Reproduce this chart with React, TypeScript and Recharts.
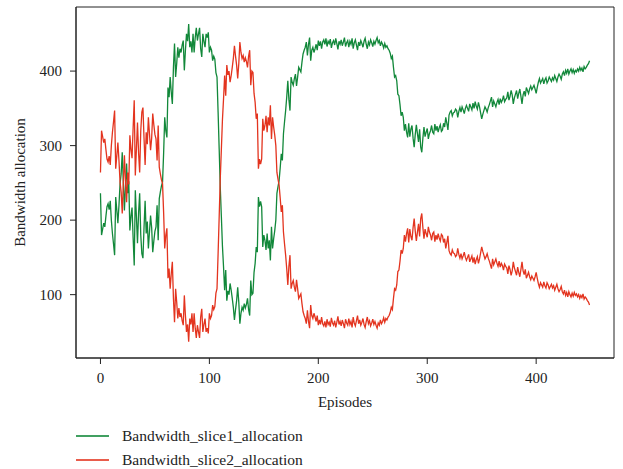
import { LineChart, Line, XAxis, YAxis, Label, ReferenceArea } from "recharts"

// Bandwidth given to each slice per episode
const slice1: number[] = [
  236, 180, 188, 196, 191, 205, 218, 222, 214, 226,
  200, 182, 168, 153, 231, 214, 196, 220, 249, 262,
  291, 250, 213, 248, 276, 236, 252, 186, 205, 217,
  176, 139, 240, 205, 169, 210, 236, 180, 155, 149,
  190, 226, 182, 198, 162, 184, 206, 190, 157, 172,
  185, 191, 220, 173, 229, 238, 246, 251, 290, 338,
  320, 311, 378, 365, 392, 372, 356, 405, 437, 392,
  410, 432, 418, 430, 425, 435, 441, 401, 428, 450,
  440, 463, 432, 440, 425, 450, 425, 445, 458, 441,
  450, 458, 430, 419, 450, 440, 432, 450, 445, 452,
  425, 432, 428, 414, 420, 416, 398, 392, 345, 295,
  244, 205, 165, 137, 106, 133, 92, 105, 100, 115,
  106, 95, 83, 66, 80, 92, 110, 90, 61, 75,
  83, 79, 88, 82, 87, 95, 80, 72, 119, 100,
  102, 130, 142, 164, 157, 231, 218, 225, 218, 164,
  180, 173, 160, 182, 162, 173, 146, 191, 162, 175,
  186, 200, 236, 245, 253, 270, 289, 280, 316, 332,
  347, 365, 387, 362, 347, 392, 385, 381, 390, 396,
  380, 392, 405, 402, 399, 412, 423, 428, 432, 439,
  421, 436, 445, 414, 428, 432, 425, 430, 436, 428,
  441, 434, 440, 430, 439, 442, 436, 444, 433, 440,
  437, 443, 431, 438, 441, 435, 444, 437, 429, 440,
  436, 442, 434, 439, 445, 433, 438, 441, 432, 440,
  436, 444, 430, 438, 442, 435, 428, 439, 434, 441,
  437, 432, 440, 444, 436, 430, 439, 435, 442, 438,
  433, 440, 436, 441, 445, 438, 441, 434, 439, 436,
  431, 437, 432, 434, 430, 428, 424, 417, 420, 405,
  392, 394, 387, 369, 367, 355, 340, 345, 338, 320,
  329, 318, 311, 330, 312, 322, 327, 310, 298, 315,
  328, 316, 305, 322, 298, 291, 310, 325, 312, 318,
  323, 309, 316, 320, 327, 318, 316, 329, 320, 326,
  318, 324, 328, 319, 321, 330, 325, 338, 330, 321,
  341, 345, 347, 340, 344, 345, 349, 347, 338, 346,
  351, 345, 352, 348, 343, 350, 354, 350, 346, 356,
  352, 348, 357, 350, 359, 353, 349, 358, 352, 344,
  336, 342, 347, 352, 349, 345, 351, 355, 360, 365,
  352, 360, 356, 352, 358, 362, 355, 363, 358, 361,
  367, 359, 362, 364, 372, 361, 366, 374, 368, 356,
  364, 369, 374, 363, 370, 376, 366, 356, 368, 373,
  366, 378, 374, 370, 376, 380, 375, 378, 381, 376,
  370, 378, 385, 390, 384, 387, 390, 383, 388, 391,
  384, 387, 392, 389, 386, 391, 388, 394, 390, 386,
  392, 396, 393, 389, 396, 399, 394, 401, 397, 403,
  396, 400, 403, 398, 402, 397, 401, 399, 403, 400,
  405, 401, 404, 399, 406, 403, 405, 408, 410, 414,
]

const slice2: number[] = [
  264, 320, 312, 304, 309, 295, 282, 278, 286, 274,
  300, 318, 332, 347, 269, 286, 304, 280, 251, 238,
  209, 250, 287, 252, 224, 264, 248, 314, 295, 283,
  324, 361, 260, 295, 331, 290, 264, 320, 345, 351,
  310, 274, 318, 302, 338, 316, 294, 310, 343, 328,
  315, 309, 280, 327, 271, 262, 254, 249, 210, 162,
  180, 189, 122, 135, 108, 128, 144, 95, 63, 108,
  90, 68, 82, 70, 75, 65, 59, 99, 72, 50,
  60, 37, 68, 60, 75, 50, 75, 55, 42, 59,
  50, 42, 70, 81, 50, 60, 68, 50, 55, 48,
  75, 68, 72, 86, 80, 84, 102, 108, 155, 205,
  256, 295, 335, 363, 394, 367, 408, 395, 400, 385,
  394, 405, 417, 434, 420, 408, 390, 410, 439, 425,
  417, 421, 412, 418, 413, 405, 420, 428, 381, 400,
  398, 370, 358, 336, 343, 269, 282, 275, 282, 336,
  320, 327, 340, 318, 338, 327, 354, 309, 338, 325,
  314, 300, 264, 255, 247, 230, 211, 220, 184, 168,
  153, 135, 113, 138, 153, 108, 115, 119, 110, 104,
  120, 108, 95, 98, 101, 88, 77, 72, 68, 61,
  79, 64, 55, 86, 72, 68, 75, 70, 64, 72,
  59, 66, 60, 70, 61, 58, 64, 56, 67, 60,
  63, 57, 69, 62, 59, 65, 56, 63, 71, 60,
  64, 58, 66, 61, 55, 67, 62, 59, 68, 60,
  64, 56, 70, 62, 58, 65, 72, 61, 66, 59,
  63, 68, 60, 56, 64, 70, 61, 65, 58, 62,
  67, 60, 64, 59, 55, 62, 59, 66, 61, 64,
  69, 63, 68, 66, 70, 72, 76, 83, 80, 95,
  108, 106, 113, 131, 133, 145, 160, 155, 162, 180,
  171, 182, 189, 170, 188, 178, 173, 190, 202, 185,
  172, 184, 195, 178, 202, 209, 190, 175, 188, 182,
  177, 191, 184, 180, 173, 182, 184, 171, 180, 174,
  182, 176, 172, 181, 179, 170, 175, 162, 170, 179,
  159, 155, 153, 160, 156, 155, 151, 153, 162, 154,
  149, 155, 148, 152, 157, 150, 146, 150, 154, 144,
  148, 152, 143, 150, 141, 147, 151, 142, 148, 156,
  164, 158, 153, 148, 151, 155, 149, 145, 140, 135,
  148, 140, 144, 148, 142, 138, 145, 137, 142, 139,
  133, 141, 138, 136, 128, 139, 134, 126, 132, 144,
  136, 131, 126, 137, 130, 124, 134, 144, 132, 127,
  134, 122, 126, 130, 124, 120, 125, 122, 119, 124,
  130, 122, 115, 110, 116, 113, 110, 117, 112, 109,
  116, 113, 108, 111, 114, 109, 112, 106, 110, 114,
  108, 104, 107, 111, 104, 101, 106, 99, 103, 97,
  104, 100, 97, 102, 98, 103, 99, 101, 97, 100,
  95, 99, 96, 101, 94, 97, 95, 92, 90, 86,
]

const xTicks = [0, 100, 200, 300, 400]
const yTicks = [100, 200, 300, 400]
const xDomain = [-22.45, 471.45]
const yDomain = [15, 486]

const GREEN = "#12883a"
const RED = "#e3341f"
const FONT = "'Liberation Serif', 'Times New Roman', serif"

const data = slice1.map((v, i) => ({ episode: i, slice1: v, slice2: slice2[i] }))

const tickStyle = { fontSize: 15, fill: "#222", fontFamily: FONT }

export default function App() {
  return (
    <div style={{ position: "absolute", left: 0, top: 0, width: 623, height: 469, background: "#fff", fontFamily: FONT }}>
      <LineChart width={623} height={469} data={data} margin={{ top: 7, right: 9, left: 0, bottom: 56 }}>
        <XAxis
          dataKey="episode"
          type="number"
          domain={xDomain}
          ticks={xTicks}
          tickSize={6}
          tickMargin={8}
          height={55}
          tick={tickStyle}
          stroke="#222"
        >
          <Label
            content={({ viewBox }: any) => (
              <text x={viewBox.x + viewBox.width / 2} y={viewBox.y + 49} textAnchor="middle" fontSize={15} fill="#222" fontFamily={FONT}>
                Episodes
              </text>
            )}
          />
        </XAxis>
        <YAxis
          domain={yDomain}
          ticks={yTicks}
          tickSize={6}
          tickMargin={8}
          width={76}
          tick={tickStyle}
          stroke="#222"
        >
          <Label
            content={({ viewBox }: any) => {
              const cx = 20
              const cy = viewBox.y + viewBox.height / 2
              return (
                <text x={cx} y={cy} transform={`rotate(-90 ${cx} ${cy})`} textAnchor="middle" dominantBaseline="central" fontSize={15} fill="#222" fontFamily={FONT}>
                  Bandwidth allocation
                </text>
              )
            }}
          />
        </YAxis>
        {/* frame around the plot, like matplotlib spines */}
        <ReferenceArea x1={xDomain[0]} x2={xDomain[1]} y1={yDomain[0]} y2={yDomain[1]} fill="none" stroke="#222" strokeWidth={1} ifOverflow="visible" />
        <Line type="linear" dataKey="slice1" stroke={GREEN} strokeWidth={1.3} dot={false} isAnimationActive={false} />
        <Line type="linear" dataKey="slice2" stroke={RED} strokeWidth={1.3} dot={false} isAnimationActive={false} />
      </LineChart>
      {[
        { name: "Bandwidth_slice1_allocation", color: GREEN, y: 436 },
        { name: "Bandwidth_slice2_allocation", color: RED, y: 460 },
      ].map((item) => (
        <div key={item.name}>
          <div style={{ position: "absolute", left: 76, top: item.y - 1, width: 33, height: 2, background: item.color, opacity: 0.8 }} />
          <div style={{ position: "absolute", left: 122, top: item.y - 10, height: 20, lineHeight: "20px", fontSize: 15.5, color: "#222", whiteSpace: "nowrap" }}>
            {item.name}
          </div>
        </div>
      ))}
    </div>
  )
}
